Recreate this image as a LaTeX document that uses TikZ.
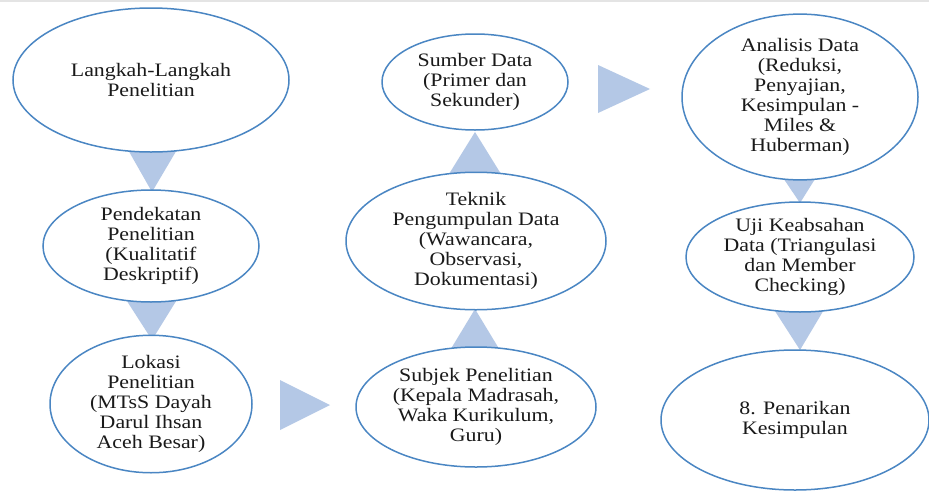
\documentclass[tikz,border=0pt]{standalone}
\usepackage{fontspec}
\setmainfont{Liberation Serif}[FakeStretch=1.15]
\usetikzlibrary{shapes.geometric}
\definecolor{edgeblue}{HTML}{4A86C3}
\definecolor{arrowfill}{HTML}{B4C8E6}
\definecolor{txt}{HTML}{1A1A1A}
\definecolor{topline}{HTML}{E4E4E4}
\tikzset{
  stepell/.style={ellipse, draw=edgeblue, line width=1.5pt, fill=white, inner sep=0pt,
    align=center, text=txt, font=\fontsize{19}{20}\selectfont},
  blockarrow/.style={fill=arrowfill, draw=none}
}
\begin{document}
\begin{tikzpicture}[x=1pt,y=-1pt]
\useasboundingbox (0,0) rectangle (929,493);
\fill[white] (0,0) rectangle (929,493);
\fill[topline] (0,0) rectangle (929,1.6);
% block arrows (drawn first, ellipses overlap)
\fill[blockarrow] (127,148) -- (178,148) -- (152,192) -- cycle;
\fill[blockarrow] (125,298) -- (178,298) -- (152,340) -- cycle;
\fill[blockarrow] (280,380) -- (330,405) -- (280,430) -- cycle;
\fill[blockarrow] (449,352) -- (501,352) -- (475,309) -- cycle;
\fill[blockarrow] (449,174) -- (501,174) -- (475,132) -- cycle;
\fill[blockarrow] (598,65) -- (650,89) -- (598,113) -- cycle;
\fill[blockarrow] (773,163) -- (825,163) -- (800,203) -- cycle;
\fill[blockarrow] (773,308) -- (825,308) -- (800,350) -- cycle;
% ellipses
\node[stepell, minimum width=276pt, minimum height=144pt] (n1) at (151,80) {Langkah-Langkah\\Penelitian};
\node[stepell, minimum width=216pt, minimum height=112pt] (n2) at (151,246) {Pendekatan\\Penelitian\\(Kualitatif\\Deskriptif)};
\node[stepell, minimum width=202pt, minimum height=128pt] (n3) at (151,404) {Lokasi\\Penelitian\\(MTsS Dayah\\Darul Ihsan\\Aceh Besar)};
\node[stepell, minimum width=240pt, minimum height=120pt] (n4) at (476,407) {Subjek Penelitian\\(Kepala Madrasah,\\Waka Kurikulum,\\Guru)};
\node[stepell, minimum width=260pt, minimum height=136pt] (n5) at (476,241) {Teknik\\Pengumpulan Data\\(Wawancara,\\Observasi,\\Dokumentasi)};
\node[stepell, minimum width=186pt, minimum height=96pt] (n6) at (475,82) {Sumber Data\\(Primer dan\\Sekunder)};
\node[stepell, minimum width=236pt, minimum height=134pt] (n7) at (800,97) {Analisis Data\\(Reduksi,\\Penyajian,\\Kesimpulan -\\Miles \&\\Huberman)};
\node[stepell, minimum width=228pt, minimum height=110pt] (n8) at (800,257) {Uji Keabsahan\\Data (Triangulasi\\dan Member\\Checking)};
\node[stepell, minimum width=268pt, minimum height=140pt] (n9) at (795,420) {8. Penarikan\\Kesimpulan};
\end{tikzpicture}
\end{document}
